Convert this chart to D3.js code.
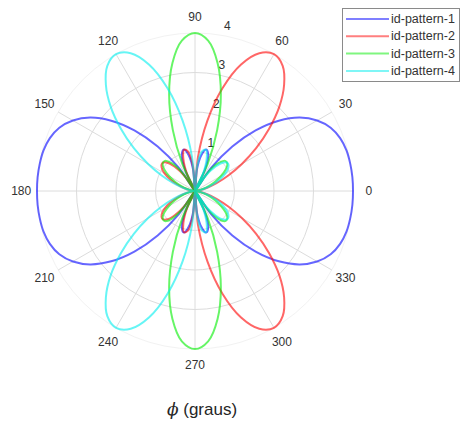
<!DOCTYPE html>
<html>
<head>
<meta charset="utf-8">
<script src="https://cdn.jsdelivr.net/npm/d3@7"></script>
<style>
  html, body { margin: 0; padding: 0; background: #fff; }
  svg { display: block; }
  text { font-family: "Liberation Sans", Arial, sans-serif; }
</style>
</head>
<body>
<svg id="chart" width="461" height="426"></svg>
<script>
// ---- data ----
const angles = d3.range(0, 360, 5); // degrees, 0..355
const seriesNames = ["id-pattern-1", "id-pattern-2", "id-pattern-3", "id-pattern-4"];
const seriesColors = ["#0000ff", "#ff0000", "#00ee00", "#00eeee"];

const pattern1 = [4.00,4.00,3.99,3.97,3.91,3.79,3.57,3.24,2.77,2.17,1.47,0.72,0,0.59,0.98,1.09,0.92,0.53,
                  0,0.53,0.92,1.09,0.98,0.59,0,0.72,1.47,2.17,2.77,3.24,3.57,3.79,3.91,3.97,3.99,4.00,
                  4.00,4.00,3.99,3.97,3.91,3.79,3.57,3.24,2.77,2.17,1.47,0.72,0,0.59,0.98,1.09,0.92,0.53,
                  0,0.53,0.92,1.09,0.98,0.59,0,0.72,1.47,2.17,2.77,3.24,3.57,3.79,3.91,3.97,3.99,4.00];
const pattern2 = [0,0.03,0.14,0.32,0.58,0.93,1.37,1.89,2.45,3.02,3.51,3.87,4.00,3.85,3.41,2.70,1.81,0.86,
                  0,0.65,1.02,1.08,0.86,0.47,0,0.45,0.80,1.02,1.09,1.03,0.89,0.69,0.48,0.29,0.13,0.03,
                  0,0.03,0.13,0.29,0.48,0.69,0.89,1.03,1.09,1.02,0.80,0.45,0,0.47,0.86,1.08,1.02,0.65,
                  0,0.86,1.81,2.70,3.41,3.85,4.00,3.87,3.51,3.02,2.45,1.89,1.37,0.93,0.58,0.32,0.14,0.03];
const pattern3 = [0,0.02,0.10,0.21,0.37,0.56,0.76,0.95,1.07,1.08,0.92,0.57,0,0.76,1.64,2.53,3.29,3.82,
                  4.00,3.82,3.29,2.53,1.64,0.76,0,0.57,0.92,1.08,1.07,0.95,0.76,0.56,0.37,0.21,0.10,0.02,
                  0,0.02,0.10,0.21,0.37,0.56,0.76,0.95,1.07,1.08,0.92,0.57,0,0.76,1.64,2.53,3.29,3.82,
                  4.00,3.82,3.29,2.53,1.64,0.76,0,0.57,0.92,1.08,1.07,0.95,0.76,0.56,0.37,0.21,0.10,0.02];
const pattern4 = [0,0.03,0.13,0.29,0.48,0.69,0.89,1.03,1.09,1.02,0.80,0.45,0,0.47,0.86,1.08,1.02,0.65,
                  0,0.86,1.81,2.70,3.41,3.85,4.00,3.87,3.51,3.02,2.45,1.89,1.37,0.93,0.58,0.32,0.14,0.03,
                  0,0.03,0.14,0.32,0.58,0.93,1.37,1.89,2.45,3.02,3.51,3.87,4.00,3.85,3.41,2.70,1.81,0.86,
                  0,0.65,1.02,1.08,0.86,0.47,0,0.45,0.80,1.02,1.09,1.03,0.89,0.69,0.48,0.29,0.13,0.03];
const seriesValues = [pattern1, pattern2, pattern3, pattern4];

const rTicks = [1, 2, 3, 4];
const thetaTicks = [0, 30, 60, 90, 120, 150, 180, 210, 240, 270, 300, 330];
const xLabel = "(graus)";

// ---- layout ----
const cx = 195, cy = 191, R = 158;
const svg = d3.select("#chart");
const g = svg.append("g").attr("transform", `translate(${cx},${cy})`);

const r = d3.scaleLinear().domain([0, 4]).range([0, R]);
// math angle (deg, CCW from east) -> d3 radial angle (rad, CW from north)
const a = d3.scaleLinear().domain([0, 360]).range([Math.PI / 2, Math.PI / 2 - 2 * Math.PI]);
const px = (deg, rr) => rr * Math.sin(a(deg));
const py = (deg, rr) => -rr * Math.cos(a(deg));

// grid rings
g.selectAll("circle.ring").data(rTicks).join("circle")
  .attr("class", "ring")
  .attr("r", d => r(d))
  .attr("fill", "none")
  .attr("stroke", d => d === 4 ? "#f2f2f2" : "#dcdcdc")
  .attr("stroke-width", 1);

// spokes
g.selectAll("line.spoke").data(thetaTicks.filter(t => t < 180)).join("line")
  .attr("class", "spoke")
  .attr("x1", d => px(d, r(4))).attr("y1", d => py(d, r(4)))
  .attr("x2", d => px(d + 180, r(4))).attr("y2", d => py(d + 180, r(4)))
  .attr("stroke", "#dcdcdc").attr("stroke-width", 1);

// angle labels
g.selectAll("text.theta").data(thetaTicks).join("text")
  .attr("class", "theta")
  .attr("x", d => px(d, r(4) * 1.1))
  .attr("y", d => py(d, r(4) * 1.1))
  .attr("text-anchor", "middle")
  .attr("dominant-baseline", "central")
  .attr("font-size", 12)
  .attr("fill", "#333")
  .text(d => d);

// radial labels (at 82 degrees)
g.selectAll("text.rlab").data(rTicks).join("text")
  .attr("class", "rlab")
  .attr("x", d => px(82, r(d)) + 7)
  .attr("y", d => py(82, r(d)) - 5)
  .attr("text-anchor", "start")
  .attr("font-size", 12)
  .attr("fill", "#333")
  .text(d => d);

// series
const line = d3.lineRadial()
  .angle((d, i) => a(angles[i]))
  .radius(d => r(d))
  .curve(d3.curveCatmullRomClosed.alpha(0.5));

seriesValues.forEach((vals, k) => {
  g.append("path")
    .datum(vals)
    .attr("d", line)
    .attr("fill", "none")
    .attr("stroke", seriesColors[k])
    .attr("stroke-opacity", 0.6)
    .attr("stroke-width", 2);
});

// legend
const lg = svg.append("g");
lg.append("rect")
  .attr("x", 342.5).attr("y", 8.5).attr("width", 117).attr("height", 73)
  .attr("fill", "#fff").attr("stroke", "#8a8a8a").attr("stroke-width", 1);
seriesNames.forEach((name, k) => {
  const y = 19 + k * 17.3;
  lg.append("line")
    .attr("x1", 346).attr("x2", 389).attr("y1", y).attr("y2", y)
    .attr("stroke", seriesColors[k]).attr("stroke-opacity", 0.5).attr("stroke-width", 2);
  lg.append("text")
    .attr("x", 391).attr("y", y).attr("dominant-baseline", "central")
    .attr("font-size", 12.5).attr("fill", "#333")
    .text(name);
});

// x label
const xl = svg.append("text")
  .attr("x", 202).attr("y", 409)
  .attr("text-anchor", "middle").attr("dominant-baseline", "central")
  .attr("font-size", 17).attr("fill", "#262626");
xl.append("tspan").attr("font-family", "'DejaVu Serif', serif").attr("font-style", "italic").text("ϕ");
xl.append("tspan").text(" " + xLabel);
</script>
</body>
</html>
